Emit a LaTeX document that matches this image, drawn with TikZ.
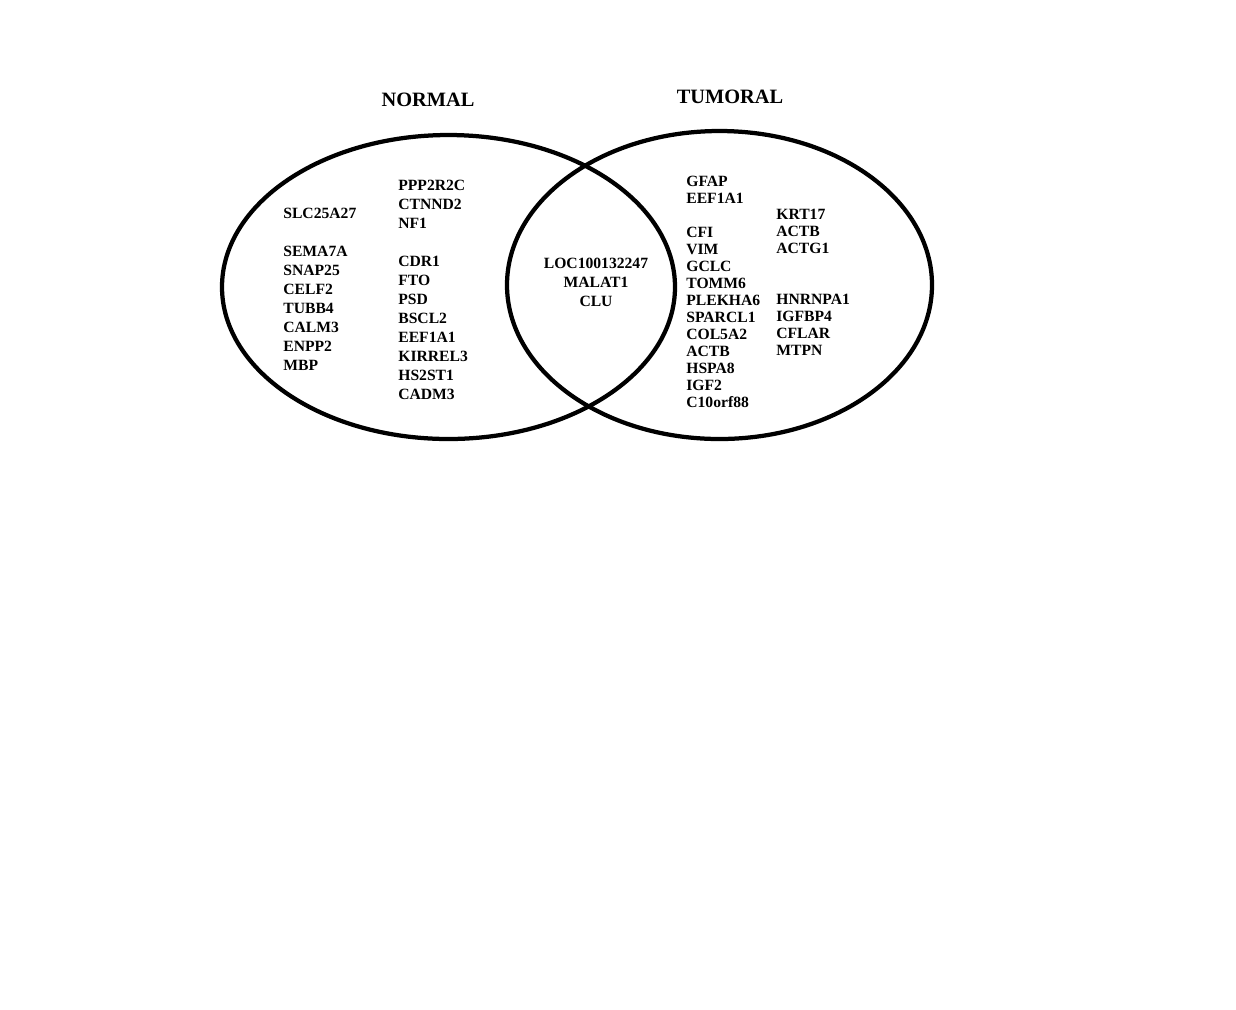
\documentclass[tikz,border=0pt]{standalone}
\usepackage{fontspec}
\setmainfont{Liberation Serif}
\usetikzlibrary{positioning}

\begin{document}
\begin{tikzpicture}[
  x=0.02cm, y=-0.02cm,
  set/.style={line width=0.085cm},
  ttl/.style={font=\fontsize{11.6}{14}\selectfont\bfseries},
  genesL/.style={anchor=north west, align=left, inner sep=0pt, font=\fontsize{8.9}{10.8}\selectfont\bfseries},
  genesR/.style={anchor=north west, align=left, inner sep=0pt, font=\fontsize{8.9}{9.67}\selectfont\bfseries},
  genesM/.style={anchor=north, align=center, inner sep=0pt, font=\fontsize{8.9}{10.8}\selectfont\bfseries}
]
\useasboundingbox (0,0) rectangle (1236,1009);

% ---------------- SETS ----------------
\coordinate (cNorm) at (448.5,287);
\coordinate (cTum) at (719.5,285);
\draw[set] (cNorm) ellipse [x radius=226.5, y radius=152];
\draw[set] (cTum) ellipse [x radius=212.5, y radius=154];

\node (tNorm) at (428,100) [ttl] {NORMAL};
\node (tTum) at (730,97) [ttl] {TUMORAL};

% ---------------- NORMAL only ----------------
\node (n1) at (283,208) [genesL] {SLC25A27\\ \\SEMA7A\\SNAP25\\CELF2\\TUBB4\\CALM3\\ENPP2\\MBP};
\node (n2) at (398,180) [genesL] {PPP2R2C\\CTNND2\\NF1\\ \\CDR1\\FTO\\PSD\\BSCL2\\EEF1A1\\KIRREL3\\HS2ST1\\CADM3};

% ---------------- shared ----------------
\node (both) at (596,258) [genesM] {LOC100132247\\MALAT1\\CLU};

% ---------------- TUMORAL only ----------------
\node (t1) at (686,176) [genesR] {GFAP\\EEF1A1\\ \\CFI\\VIM\\GCLC\\TOMM6\\PLEKHA6\\SPARCL1\\COL5A2\\ACTB\\HSPA8\\IGF2\\C10orf88};
\node (t2) at (776,209) [genesR] {KRT17\\ACTB\\ACTG1\\ \\ \\HNRNPA1\\IGFBP4\\CFLAR\\MTPN};

\end{tikzpicture}
\end{document}
